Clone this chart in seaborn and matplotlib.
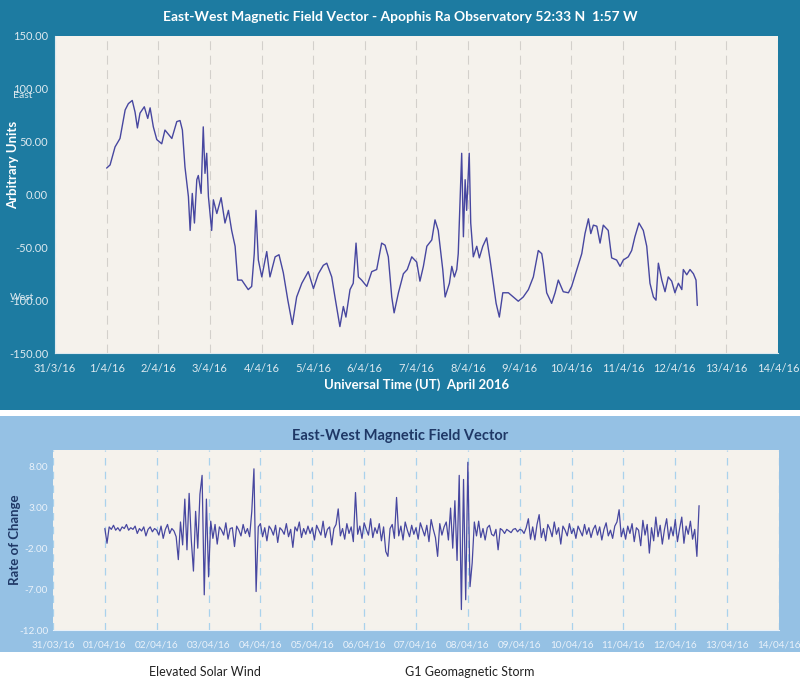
import matplotlib
matplotlib.use('Agg')
import numpy as np
import pandas as pd
import matplotlib.pyplot as plt
import matplotlib.dates as mdates
from matplotlib.ticker import FuncFormatter, MultipleLocator
from matplotlib.patches import Rectangle
import seaborn as sns

# top chart: hours after 01/04/16 00:00 and field value (arbitrary units)
ew_hours = [0.0, 1.6, 3.9, 6.2, 8.6, 10.1, 11.9, 13.2, 14.3, 15.5,
            17.5, 19.1, 20.2, 21.7, 23.3, 25.6, 27.1, 30.3, 32.6, 34.1,
            35.2, 36.4, 38.0, 38.8, 39.8, 40.8, 41.9, 42.6, 43.9, 44.9,
            45.7, 46.5, 47.3, 48.8, 49.6, 51.2, 53.2, 55.0, 56.6, 58.1,
            59.7, 60.9, 62.8, 65.8, 67.4, 68.6, 69.4, 70.5, 72.1, 74.4,
            75.9, 78.3, 80.1, 82.1, 84.2, 86.3, 88.3, 90.7, 93.7, 96.1,
            98.4,
            100.7, 102.3, 104.6, 106.1, 108.4, 110.0, 111.2, 113.1, 114.6, 115.9,
            117.0, 118.5, 120.9, 123.2, 125.5, 127.8, 129.4, 130.9, 132.5, 133.6,
            135.6, 137.9, 139.7, 141.8, 144.1, 145.6, 147.2, 148.8, 151.1, 152.6,
            154.1, 156.2, 157.3, 159.3, 160.4, 161.6, 162.7, 163.4, 165.0, 165.8,
            166.6, 167.3, 168.5, 169.2, 170.4, 172.0, 173.2, 174.8, 176.6, 178.2,
            179.7, 181.0, 182.5, 184.1, 186.7, 189.0, 191.3, 193.6, 196.0, 198.3,
            200.6, 202.2,
            202.9, 204.5, 206.8, 208.4, 209.9, 212.2, 214.6, 216.1, 218.5, 220.8,
            222.3, 223.9, 225.0, 226.2, 227.8, 229.3, 230.8, 233.1, 234.7, 237.0,
            238.6, 240.1, 242.4, 244.0, 245.5, 247.4, 249.4, 251.0, 252.5, 254.1,
            255.3, 256.4, 258.0, 259.5, 261.0, 262.6, 264.1, 265.7, 267.3, 268.0,
            269.6, 271.1, 272.7, 273.9, 274.5]
ew_values = [25, 28, 45, 53, 80, 86, 89, 78, 63, 77,
             83, 72, 82, 64, 52, 48, 61, 53, 69, 70,
             61, 26, -2, -34, 1, -27, 14, 18, 1, 64,
             20, 39, -2, -34, -5, -18, -3, -27, -15, -34,
             -49, -81, -81, -90, -87, -56, -15, -62, -78, -54,
             -78, -59, -57, -74, -100, -123, -97, -84, -73, -89,
             -75,
             -67, -65, -78, -97, -125, -106, -116, -90, -84, -46,
             -78, -81, -87, -73, -71, -46, -48, -59, -97, -112,
             -93, -75, -71, -59, -64, -82, -68, -49, -43, -24,
             -34, -71, -97, -84, -68, -78, -71, -56, 39, -40,
             14, -15, 39, -27, -59, -49, -60, -49, -41, -62,
             -84, -103, -116, -93, -93, -97, -101, -97, -90, -78,
             -53, -56,
             -65, -93, -103, -93, -81, -92, -93, -87, -71, -56,
             -37, -23, -37, -29, -30, -46, -29, -34, -60, -62,
             -68, -62, -59, -53, -40, -27, -34, -49, -84, -97,
             -100, -65, -81, -92, -78, -82, -93, -84, -90, -71,
             -76, -71, -75, -81, -105]

# bottom chart: hourly rate of change from 01/04/16 00:00
rate_values = [0.4, -1.4, 0.6, 0.3, 0.8, 0.2, 0.5, 0.1, 0.6, 0.4, 0.9, 0.2,
               0.5, 0.3, 0.7, -0.2, 0.4, 0.1, 0.6, -0.5, 0.3, 0.6, 0.0, 0.4,
               0.2, -0.4, 0.7, -0.8, 0.3, 0.9, -0.2, 0.4, 0.1, -0.6, -3.4, 1.2,
               -1.6, 4.0, -2.2, 4.7, -1.0, -4.8, 2.5, -2.0, 4.6, 6.9, -7.7, 4.0,
               -5.5, 1.3, -0.8, 0.9, -1.5, 0.6, 0.2, -0.4, 1.1, -0.9, 0.4, 0.5,
               -1.8, 0.7, 0.2, -0.5, 0.9, -0.2, 0.4, -0.6, 2.5, 7.7, -7.3, 0.6,
               1.0, -0.6, 0.5, -1.1, 0.7, 0.3, -0.4, 0.8, -1.3, 0.5, 0.2, -0.3,
               1.0, -0.6, 0.3, -1.9, 0.6, 0.1, 1.2, -0.7, 0.4, -0.3, 0.7, -0.2,
               0.5, -1.0, 0.8, 0.2, -0.4, 1.3, -0.7, 0.3, 0.6, -1.6, 0.4, 0.9,
               2.8, -0.5, 0.4, -0.9, 1.0, -0.2, 0.6, -1.2, 4.8, -0.3, 0.7, -0.8,
               1.1, 0.3, -0.4, 1.6, -0.7, 0.5, -0.2, 1.0, -1.1, 0.6, -2.4, -3.0,
               0.4, 0.9, -0.8, 4.2, -0.5, 0.7, -1.0, 1.2, 0.2, -0.6, 0.8, -0.3,
               0.5, -0.9, 1.1, 0.3, -0.5, 0.8, -1.2, 1.5, 0.3, -0.7, -3.0, 1.0,
               -0.4, 0.6, 1.2, -1.0, 2.9, -2.0, 3.8, -3.5, 6.9, -9.5, 6.4, -8.3,
               8.5, -6.7, -3.8, 1.2, -0.5, 1.3, -0.7, 0.4, -1.0, 0.5, 0.8, -0.3,
               -0.5, 0.3, -2.2, 0.4, 0.2, -0.2, 0.3, 0.1, -0.1, 0.3, 0.4, 0.0,
               0.3, 0.2, -0.2, 0.5, 1.6, -0.9, 0.6, -1.0, 0.9, 2.1, -0.7, 0.4,
               -1.1, 0.9, 0.3, -0.6, 1.2, -0.3, 0.5, -1.5, 0.7, 0.2, -0.5, 1.0,
               -0.2, 0.4, -0.8, 0.7, 0.1, -0.5, 0.9, -0.3, 0.5, -0.7, 0.3, 0.8,
               -0.4, 0.6, -1.0, 0.3, 1.1, -0.5, 0.2, -0.8, 0.7, 1.2, 2.7, -0.6,
               0.4, -0.9, 0.7, -0.2, 1.0, -1.2, 0.5, 0.2, -1.7, 1.4, -0.4, 0.9,
               -2.6, 0.5, -1.1, 1.8, -0.6, 0.8, -1.5, 0.3, 1.6, -0.9, 0.6, -0.5,
               1.5, -1.2, 0.4, 1.8, -1.4, 0.7, -0.3, 1.3, -0.9, 0.3, -3.0, 3.2]

top_title = 'East-West Magnetic Field Vector - Apophis Ra Observatory 52:33 N  1:57 W'
bot_title = 'East-West Magnetic Field Vector'
notes = ['Elevated Solar Wind', 'G1 Geomagnetic Storm']

start = pd.Timestamp('2016-04-01')
df_ew = pd.DataFrame({'time': start + pd.to_timedelta(ew_hours, unit='h'), 'value': ew_values})
df_rate = pd.DataFrame({'time': pd.date_range(start, periods=len(rate_values), freq='h'),
                        'value': rate_values})

sns.set_style('white')
plt.rcParams['font.family'] = ['Lato', 'DejaVu Sans']

dark_bg = '#1D7BA1'
light_bg = '#95C1E4'
plot_bg = '#F5F2EC'
line_col = '#4747A0'
navy = '#1F3866'

fig = plt.figure(figsize=(8, 6.96), dpi=100)
fig.patch.set_facecolor('white')
fig.patches.append(Rectangle((0, 1 - 410 / 696), 1, 410 / 696, transform=fig.transFigure,
                             facecolor=dark_bg, edgecolor='none', zorder=-10))
fig.patches.append(Rectangle((0, 1 - 652 / 696), 1, 236 / 696, transform=fig.transFigure,
                             facecolor=light_bg, edgecolor='none', zorder=-10))

xmin, xmax = pd.Timestamp('2016-03-31'), pd.Timestamp('2016-04-14')

# ---- top panel
ax1 = fig.add_axes([55 / 800, 1 - 353 / 696, 723 / 800, 317 / 696])
ax1.set_zorder(1)
ax1.set_facecolor(plot_bg)
sns.lineplot(data=df_ew, x='time', y='value', ax=ax1, color=line_col, linewidth=1.0, estimator=None)
ax1.set_xlim(xmin, xmax)
ax1.set_ylim(-150, 150)
ax1.yaxis.set_major_locator(MultipleLocator(50))
ax1.yaxis.set_minor_locator(MultipleLocator(10))
ax1.yaxis.set_major_formatter(FuncFormatter(lambda v, p: f'{v:.2f}'))
ax1.xaxis.set_major_locator(mdates.DayLocator())
ax1.xaxis.set_minor_locator(mdates.HourLocator(byhour=range(0, 24, 3)))
ax1.xaxis.set_major_formatter(FuncFormatter(
    lambda v, p: '{0.day}/{0.month}/{0:%y}'.format(mdates.num2date(v))))
ax1.grid(axis='x', which='major', color='#D3D0CB', linestyle=(0, (8, 5)), linewidth=0.8)
for s in ['top', 'right']:
    ax1.spines[s].set_visible(False)
for s in ['left', 'bottom']:
    ax1.spines[s].set_color('#DDE9EF')
ax1.tick_params(axis='both', which='both', colors='#DDE9EF', labelsize=8, direction='out')
ax1.tick_params(axis='both', which='major', length=4)
ax1.tick_params(axis='both', which='minor', length=2)
ax1.tick_params(axis='y', pad=1)
ax1.set_xlabel('Universal Time (UT)  April 2016', color='white', fontsize=9.5, fontweight='bold')
ax1.xaxis.set_label_coords((417 - 55) / 723, (353 - 378) / 317)
ax1.set_ylabel('Arbitrary Units', color='white', fontsize=9.5, fontweight='bold')
ax1.yaxis.set_label_coords((19 - 55) / 723, (353 - 165) / 317)
fig.text(0.5, 1 - 17 / 696, top_title, color='white', fontsize=10, fontweight='bold',
         ha='center', va='center')
fig.text(13 / 800, 1 - 96 / 696, 'East', color='#DDE9EF', fontsize=7.5, ha='left', va='center')
fig.text(10 / 800, 1 - 298 / 696, 'West', color='#DDE9EF', fontsize=7.5, ha='left', va='center')

# ---- bottom panel
ax2 = fig.add_axes([53 / 800, 1 - 630 / 696, 726 / 800, 180 / 696])
ax2.set_zorder(1)
ax2.set_facecolor(plot_bg)
sns.lineplot(data=df_rate, x='time', y='value', ax=ax2, color=line_col, linewidth=0.9, estimator=None)
ax2.set_xlim(xmin, xmax)
ax2.set_ylim(-12, 10)
ax2.set_yticks([-12, -7, -2, 3, 8])
ax2.yaxis.set_major_formatter(FuncFormatter(lambda v, p: f'{v:.2f}'))
ax2.xaxis.set_major_locator(mdates.DayLocator())
ax2.xaxis.set_major_formatter(mdates.DateFormatter('%d/%m/%y'))
ax2.grid(axis='x', which='major', color='#A9D2EC', linestyle=(0, (6, 5)), linewidth=0.9)
for s in ['top', 'right', 'left']:
    ax2.spines[s].set_visible(False)
ax2.spines['bottom'].set_color('#E8F1F9')
ax2.tick_params(axis='both', colors='#EAF2FA', labelsize=7.2)
ax2.tick_params(axis='x', length=4, direction='out')
ax2.tick_params(axis='y', length=0)
ax2.set_xlabel('')
ax2.set_ylabel('Rate of Change', color=navy, fontsize=9.5, fontweight='bold')
ax2.yaxis.set_label_coords((21 - 53) / 726, (630 - 540) / 180)
fig.text(0.5, 1 - 436 / 696, bot_title, color=navy, fontsize=10.5, fontweight='bold',
         ha='center', va='center')

fig.text(205 / 800, 1 - 672 / 696, notes[0], color='#222222', fontsize=9, ha='center', va='center')
fig.text(470 / 800, 1 - 672 / 696, notes[1], color='#222222', fontsize=9, ha='center', va='center')

fig.savefig('out.png', dpi=100, facecolor=fig.get_facecolor())
